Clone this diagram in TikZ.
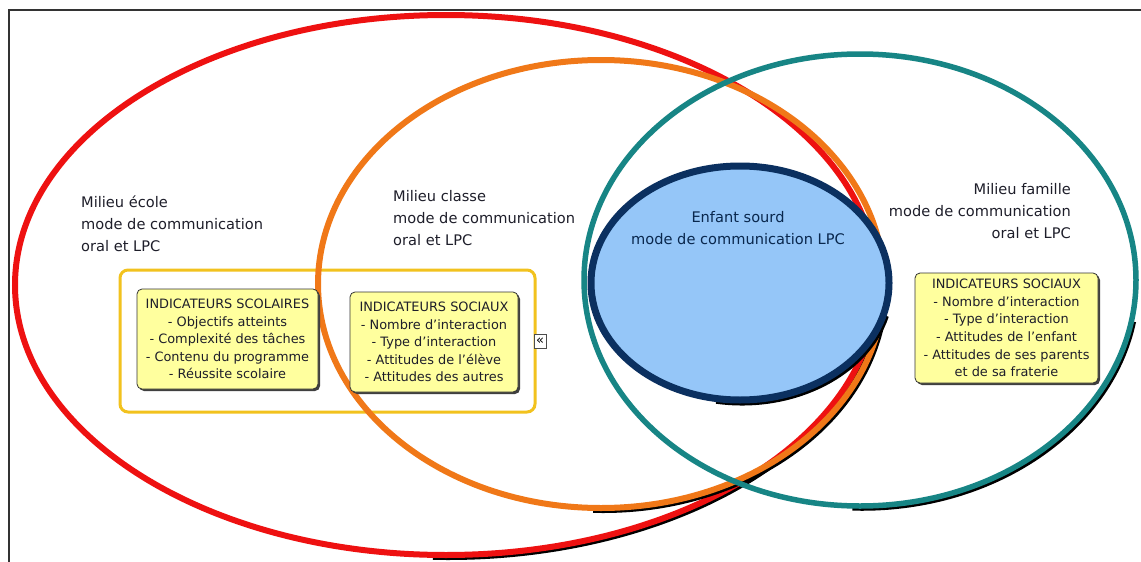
\documentclass[tikz,border=0pt]{standalone}
\usepackage{fontspec}
\setmainfont{DejaVu Sans}
\usetikzlibrary{shadows}
\definecolor{cred}{HTML}{EE1111}
\definecolor{corange}{HTML}{F07818}
\definecolor{cteal}{HTML}{178585}
\definecolor{cnavy}{HTML}{0B3060}
\definecolor{cblue}{HTML}{95C6F8}
\definecolor{cgold}{HTML}{F2C21E}
\definecolor{cbox}{HTML}{FFFF9E}
\definecolor{ctext}{HTML}{1E1E2A}
\begin{document}
\begin{tikzpicture}[x=1pt,y=-1pt,
  ring/.style={line width=6pt},
  ringshadow/.style={line width=5pt, draw=black, line cap=butt, shift={(2,2.5)}},
  indbox/.style={draw=black!80, fill=cbox, rounded corners=5pt, line width=0.8pt,
    align=center, font=\fontsize{12.9}{17.6}\selectfont, text=ctext, inner sep=0pt,
    drop shadow={shadow xshift=2pt, shadow yshift=-2pt, fill=black!75, opacity=1}},
  lbl/.style={font=\fontsize{14.6}{22}\selectfont, text=ctext, inner sep=0pt}]
\useasboundingbox (0,0) rectangle (1141,562);
\fill[white] (0,0) rectangle (1141,562);
% frame
\draw[line width=1.5pt, black!80] (9,562) -- (9,10) -- (1141,10);
% red ellipse (Milieu ecole)
\draw[ringshadow] (446,285) ++(10:431 and 270) arc[start angle=10, end angle=92, x radius=431, y radius=270];
\draw[ring, cred] (446,285) ellipse [x radius=431, y radius=270];
% yellow frame
\draw[cgold, line width=3pt, rounded corners=8pt] (120,270) rectangle (535,412);
% orange ellipse (Milieu classe)
\draw[ringshadow] (601,284) ++(10:283 and 224) arc[start angle=10, end angle=92, x radius=283, y radius=224];
\draw[ring, corange] (601,284) ellipse [x radius=283, y radius=224];
% teal ellipse (Milieu famille)
\draw[ringshadow, line width=4.5pt] (860,280) ++(10:276 and 226) arc[start angle=10, end angle=92, x radius=276, y radius=226];
\draw[ring, cteal, line width=5.5pt] (860,280) ellipse [x radius=276, y radius=226];
% blue ellipse (Enfant sourd)
\draw[ringshadow, line width=6pt] (740,283) ++(15:149 and 117) arc[start angle=15, end angle=100, x radius=149, y radius=117];
\draw[cnavy, fill=cblue, line width=7pt] (740,283) ellipse [x radius=149, y radius=117];
% labels
\node[lbl, anchor=west, align=left] (ecole) at (81,223.5)
  {Milieu école\\mode de communication\\oral et LPC};
\node[lbl, anchor=west, align=left] (classe) at (393,218)
  {Milieu classe\\mode de communication\\oral et LPC};
\node[lbl, anchor=east, align=right] (famille) at (1071,211.5)
  {Milieu famille\\mode de communication\\oral et LPC};
\node[lbl, align=center, text=cnavy!80!black] (enfant) at (738,228.5)
  {Enfant sourd\\mode de communication LPC};
% indicator boxes
\node[indbox, minimum width=181pt, minimum height=100pt] (scol) at (227.5,339)
  {INDICATEURS SCOLAIRES\\- Objectifs atteints\\- Complexité des tâches\\- Contenu du programme\\- Réussite scolaire};
\node[indbox, minimum width=168pt, minimum height=100pt] (soc1) at (434,342)
  {INDICATEURS SOCIAUX\\- Nombre d'interaction\\- Type d'interaction\\- Attitudes de l'élève\\- Attitudes des autres};
\node[indbox, minimum width=183pt, minimum height=110pt] (soc2) at (1006.5,328)
  {INDICATEURS SOCIAUX\\- Nombre d'interaction\\- Type d'interaction\\- Attitudes de l'enfant\\- Attitudes de ses parents\\et de sa fraterie};
% small collapse icon
\node[draw=black!70, fill=white, line width=0.7pt, minimum width=12pt, minimum height=14pt,
  inner sep=0pt, font=\fontsize{13}{13}\selectfont] (icon) at (540,341) {«};
\end{tikzpicture}
\end{document}
